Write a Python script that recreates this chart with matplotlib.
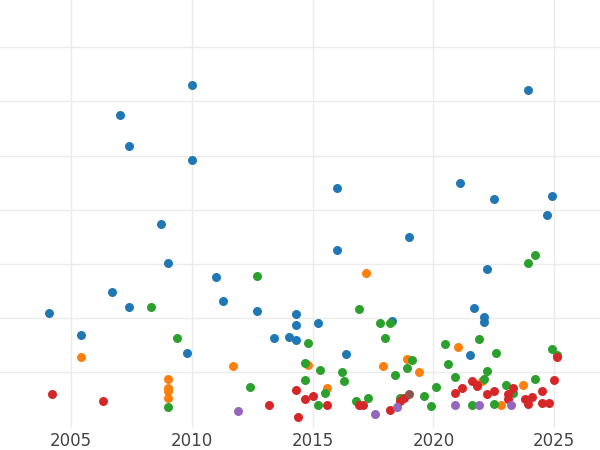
import matplotlib
matplotlib.use("Agg")
import matplotlib.pyplot as plt

blue_x = [2004.1, 2005.4, 2006.7, 2007.0, 2007.4, 2007.4, 2008.7, 2009.0, 2009.8, 2010.0, 2010.0,
          2011.0, 2011.3, 2012.7, 2013.4, 2014.0, 2014.3, 2014.3, 2014.3, 2015.2, 2016.0, 2016.0,
          2016.4, 2018.3, 2019.0, 2021.1, 2021.5, 2021.7, 2022.1, 2022.1, 2022.2, 2022.5, 2023.9,
          2024.7, 2024.9]
blue_y = [2.09, 1.69, 2.48, 5.74, 5.17, 2.20, 3.74, 3.01, 1.36, 6.31, 4.92,
          2.75, 2.31, 2.13, 1.63, 1.65, 2.07, 1.87, 1.60, 1.91, 4.40, 3.25,
          1.34, 1.94, 3.50, 4.50, 1.32, 2.18, 2.02, 1.93, 2.90, 4.20, 6.20,
          3.91, 4.26]

orange_x = [2005.4, 2009.0, 2009.0, 2009.0, 2009.0, 2011.7, 2014.8, 2015.6, 2017.2, 2017.9,
            2018.9, 2019.4, 2021.0, 2022.8, 2023.7, 2022.0]
orange_y = [1.28, 0.88, 0.70, 0.66, 0.53, 1.12, 1.14, 0.70, 2.84, 1.12,
            1.25, 1.01, 1.47, 0.39, 0.77, 0.83]

green_x = [2008.3, 2009.0, 2009.4, 2012.4, 2012.7, 2014.7, 2014.7, 2014.8, 2015.2, 2015.3, 2015.5,
           2016.2, 2016.3, 2016.8, 2016.9, 2017.3, 2017.8, 2018.0, 2018.2, 2018.4, 2018.6, 2018.9,
           2019.1, 2019.6, 2019.9, 2020.1, 2020.5, 2020.6, 2020.9, 2021.6, 2021.9, 2022.1, 2022.2,
           2022.5, 2022.6, 2023.0, 2023.9, 2024.2, 2024.2, 2024.9, 2025.1, 2023.3]
green_y = [2.20, 0.35, 1.63, 0.73, 2.77, 1.17, 0.86, 1.54, 0.40, 1.05, 0.62,
           1.01, 0.83, 0.46, 2.17, 0.53, 1.91, 1.63, 1.91, 0.95, 0.53, 1.08,
           1.23, 0.57, 0.37, 0.73, 1.52, 1.16, 0.92, 0.40, 1.61, 0.88, 1.03,
           0.42, 1.36, 0.77, 3.01, 3.17, 0.88, 1.43, 1.32, 0.62]

red_x = [2004.2, 2006.3, 2013.2, 2014.3, 2014.4, 2014.7, 2015.0, 2015.6, 2016.9, 2017.1, 2018.2,
         2018.6, 2018.8, 2020.9, 2021.2, 2021.6, 2021.8, 2022.2, 2022.5, 2023.1, 2023.1, 2023.3,
         2023.8, 2023.9, 2024.1, 2024.5, 2024.5, 2024.8, 2025.0, 2025.1, 2021.8]
red_y = [0.59, 0.46, 0.39, 0.68, 0.17, 0.51, 0.57, 0.39, 0.39, 0.40, 0.31,
         0.46, 0.53, 0.62, 0.70, 0.84, 0.75, 0.59, 0.66, 0.59, 0.50, 0.70,
         0.50, 0.42, 0.55, 0.66, 0.44, 0.44, 0.86, 1.28, 0.77]

purple_x = [2011.9, 2017.6, 2018.5, 2020.9, 2021.9, 2023.2]
purple_y = [0.28, 0.22, 0.35, 0.40, 0.40, 0.39]

brown_x = [2019.0]
brown_y = [0.59]

series = [
    (blue_x, blue_y, "#1f77b4"),
    (orange_x, orange_y, "#ff7f0e"),
    (green_x, green_y, "#2ca02c"),
    (red_x, red_y, "#d62728"),
    (purple_x, purple_y, "#9467bd"),
    (brown_x, brown_y, "#8c564b"),
]

fig = plt.figure(figsize=(6, 4.5), dpi=100)
ax = fig.add_axes([0, 0.05, 1, 0.95])
for xs, ys, color in series:
    ax.scatter(xs, ys, s=42, color=color, linewidths=0, zorder=3)

ax.set_xlim(2002.05, 2026.9)
ax.set_ylim(-0.02, 7.87)
ax.set_xticks([2005, 2010, 2015, 2020, 2025])
ax.set_yticks([1, 2, 3, 4, 5, 6, 7])
ax.set_yticklabels([])
ax.tick_params(axis="both", length=0, labelsize=12, colors="#444444")
ax.grid(True, color="#ebebeb", linewidth=1, zorder=0)
for spine in ax.spines.values():
    spine.set_visible(False)

fig.savefig("out.png", dpi=100)
